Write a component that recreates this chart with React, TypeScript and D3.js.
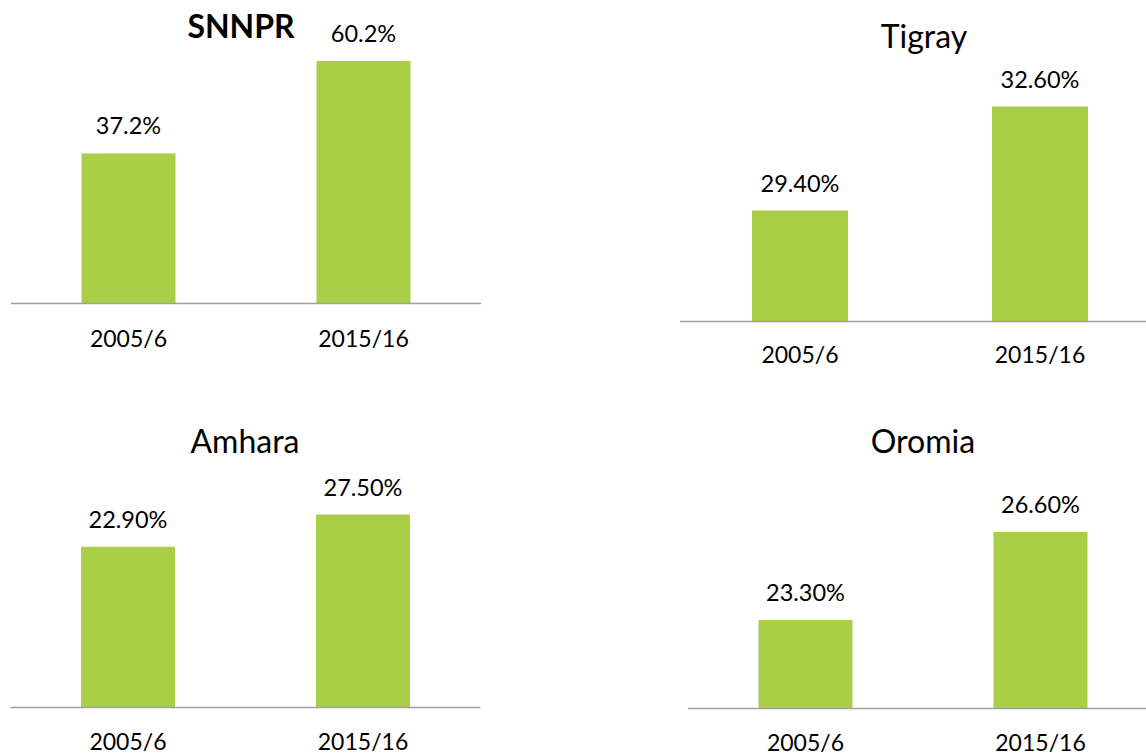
import React from "react";
import * as d3 from "d3";

const categories = ["2005/6", "2015/16"];
const regions = ["SNNPR", "Tigray", "Amhara", "Oromia"];
const snnprValues = [37.2, 60.2];
const tigrayValues = [29.4, 32.6];
const amharaValues = [22.9, 27.5];
const oromiaValues = [23.3, 26.6];
const valueLabels = [
  ["37.2%", "60.2%"],
  ["29.40%", "32.60%"],
  ["22.90%", "27.50%"],
  ["23.30%", "26.60%"],
];
// value-axis domains (each panel has its own auto range)
const domains: [number, number][] = [
  [0, 70],
  [26, 34],
  [0, 30],
  [20, 28],
];

const seriesValues = [snnprValues, tigrayValues, amharaValues, oromiaValues];

// layout per panel: axis left x, axis width, baseline y, px-per-unit
const layout = [
  { x0: 11, w: 470, base: 303, k: 4.02, titleX: 241, titleY: 38, bold: true, catY: 347 },
  { x0: 680, w: 480, base: 321, k: 32.5, titleX: 924, titleY: 48, bold: false, catY: 363 },
  { x0: 10.5, w: 470, base: 707, k: 7.0, titleX: 245, titleY: 453, bold: false, catY: 750 },
  { x0: 688, w: 470, base: 708, k: 26.67, titleX: 923, titleY: 453, bold: false, catY: 751 },
];

const GREEN = "#A9CF46";
const FONT = "Lato, 'Open Sans', sans-serif";

function Panel({ idx }: { idx: number }) {
  const L = layout[idx];
  const dom = domains[idx];
  const vals = seriesValues[idx];
  const x = d3
    .scaleBand<string>()
    .domain(categories)
    .range([L.x0, L.x0 + L.w])
    .paddingInner(0.6)
    .paddingOuter(0.3);
  const y = d3
    .scaleLinear()
    .domain(dom)
    .range([L.base, L.base - (dom[1] - dom[0]) * L.k]);
  return (
    <g>
      <text
        x={L.titleX}
        y={L.titleY}
        textAnchor="middle"
        fontFamily={FONT}
        fontSize={32}
        fontWeight={L.bold ? 700 : 400}
        fill="#000"
      >
        {regions[idx]}
      </text>
      {categories.map((c, i) => (
        <g key={c}>
          <rect
            x={x(c)!}
            y={y(vals[i])}
            width={x.bandwidth()}
            height={L.base - y(vals[i])}
            fill={GREEN}
          />
          <text
            x={x(c)! + x.bandwidth() / 2}
            y={y(vals[i]) - 19}
            textAnchor="middle"
            fontFamily={FONT}
            fontSize={23.5}
            fill="#000"
          >
            {valueLabels[idx][i]}
          </text>
          <text
            x={x(c)! + x.bandwidth() / 2}
            y={L.catY}
            textAnchor="middle"
            fontFamily={FONT}
            fontSize={23}
            fill="#000"
          >
            {c}
          </text>
        </g>
      ))}
      <line
        x1={L.x0}
        x2={L.x0 + L.w}
        y1={L.base + 0.5}
        y2={L.base + 0.5}
        stroke="#A0A0A0"
        strokeWidth={1.5}
      />
    </g>
  );
}

export default function App() {
  return (
    <svg
      width={1146}
      height={755}
      style={{ position: "absolute", left: 0, top: 0, background: "#fff" }}
    >
      <rect width={1146} height={755} fill="#fff" />
      {regions.map((r, i) => (
        <Panel key={r} idx={i} />
      ))}
    </svg>
  );
}
